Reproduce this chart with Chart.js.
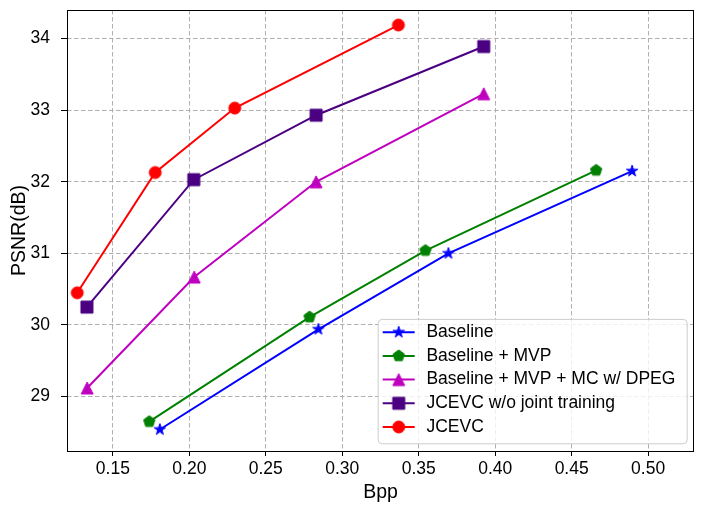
<!DOCTYPE html>
<html>
<head>
<meta charset="utf-8">
<script src="https://cdn.jsdelivr.net/npm/chart.js@4.4.0/dist/chart.umd.min.js"></script>
<style>
    html, body { margin: 0; padding: 0; background: #fff; }
    canvas { display: block; }
</style>
</head>
<body>
<canvas id="rdChart" width="705" height="514"></canvas>
<script>
// Series labels
const seriesNames = [
    'Baseline',
    'Baseline + MVP',
    'Baseline + MVP + MC w/ DPEG',
    'JCEVC w/o joint training',
    'JCEVC'
];

// Bpp (x) per series
const bppBaseline = [0.1807, 0.2844, 0.3694, 0.4895];
const bppMvp      = [0.1738, 0.2786, 0.3544, 0.4660];
const bppDpeg     = [0.1332, 0.2032, 0.2829, 0.3925];
const bppNoJoint  = [0.1330, 0.2029, 0.2829, 0.3925];
const bppJcevc    = [0.1267, 0.1777, 0.2297, 0.3367];

// PSNR (y) per series
const psnrBaseline = [28.54, 29.94, 31.00, 32.15];
const psnrMvp      = [28.65, 30.11, 31.04, 32.16];
const psnrDpeg     = [29.12, 30.67, 32.00, 33.23];
const psnrNoJoint  = [30.25, 32.03, 32.93, 33.89];
const psnrJcevc    = [30.45, 32.13, 33.03, 34.19];

// Tick labels
const xTicks = [0.15, 0.20, 0.25, 0.30, 0.35, 0.40, 0.45, 0.50];
const yTicks = [29, 30, 31, 32, 33, 34];

const FONT = "'Liberation Sans', Arial, Helvetica, sans-serif";

/**
 * Build a matplotlib-like marker as a small canvas
 */
function makeMarker(shape, color) {
    const c = document.createElement('canvas');
    c.width = 18;
    c.height = 18;
    const ctx = c.getContext('2d');
    const cx = 9, cy = 9, r = 6;

    ctx.beginPath();
    if (shape === 'star') {
        for (let i = 0; i < 10; i++) {
            const rad = i % 2 ? r * 0.381966 : r;
            const a = -Math.PI / 2 + i * Math.PI / 5;
            ctx.lineTo(cx + rad * Math.cos(a), cy + rad * Math.sin(a));
        }
    } else if (shape === 'pentagon') {
        for (let i = 0; i < 5; i++) {
            const a = -Math.PI / 2 + i * 2 * Math.PI / 5;
            ctx.lineTo(cx + r * Math.cos(a), cy + r * Math.sin(a));
        }
    } else if (shape === 'triangle') {
        ctx.moveTo(cx, cy - r);
        ctx.lineTo(cx - r, cy + r);
        ctx.lineTo(cx + r, cy + r);
    } else if (shape === 'square') {
        ctx.rect(cx - r, cy - r, 2 * r, 2 * r);
    } else {
        ctx.arc(cx, cy, r, 0, Math.PI * 2);
    }
    ctx.closePath();
    ctx.fillStyle = color;
    ctx.fill();
    ctx.lineWidth = 1;
    ctx.strokeStyle = color;
    ctx.stroke();
    return c;
}

const seriesColors = ['#0000ff', '#008000', '#bf00bf', '#4b0082', '#ff0000'];
const seriesShapes = ['star', 'pentagon', 'triangle', 'square', 'circle'];
const seriesX = [bppBaseline, bppMvp, bppDpeg, bppNoJoint, bppJcevc];
const seriesY = [psnrBaseline, psnrMvp, psnrDpeg, psnrNoJoint, psnrJcevc];

const markers = seriesShapes.map((s, i) => makeMarker(s, seriesColors[i]));

const datasets = seriesNames.map((name, i) => ({
    label: name,
    data: seriesX[i].map((x, j) => ({ x: x, y: seriesY[i][j] })),
    borderColor: seriesColors[i],
    backgroundColor: seriesColors[i],
    borderWidth: 2,
    showLine: true,
    tension: 0,
    pointStyle: markers[i],
    pointRadius: 7,
    order: seriesNames.length - i
}));

// Axes frame + legend box inside the plot
const framePlugin = {
    id: 'frameAndLegend',
    afterDatasetsDraw(chart) {
        const { ctx, chartArea: a } = chart;
        ctx.save();
        ctx.strokeStyle = '#000';
        ctx.lineWidth = 1;
        ctx.strokeRect(Math.round(a.left) + 0.5, Math.round(a.top) + 0.5,
            Math.round(a.right - a.left) - 1, Math.round(a.bottom - a.top));
        ctx.restore();
    },
    afterDraw(chart) {
        const { ctx, chartArea: a } = chart;
        const rowH = 23.7;
        const w = 309, h = 13.3 + rowH * 4 + 16.3;
        const right = a.right - 7.3, bottom = a.bottom - 7.7;
        const left = right - w, top = bottom - h;

        ctx.save();
        ctx.beginPath();
        ctx.roundRect(left + 0.5, top + 0.5, w, h, 4);
        ctx.fillStyle = 'rgba(255,255,255,0.8)';
        ctx.fill();
        ctx.strokeStyle = '#cccccc';
        ctx.lineWidth = 1;
        ctx.stroke();

        ctx.font = '17.5px ' + FONT;
        ctx.textBaseline = 'middle';
        ctx.textAlign = 'left';
        seriesNames.forEach((name, i) => {
            const y = top + 13.3 + i * rowH;
            ctx.beginPath();
            ctx.moveTo(left + 5, y);
            ctx.lineTo(left + 37, y);
            ctx.strokeStyle = seriesColors[i];
            ctx.lineWidth = 2;
            ctx.stroke();
            ctx.drawImage(markers[i], left + 21 - 9, y - 9);
            ctx.fillStyle = '#000';
            ctx.fillText(name, left + 48.7, y);
        });
        ctx.restore();
    }
};

new Chart(document.getElementById('rdChart'), {
    type: 'scatter',
    data: { datasets: datasets },
    plugins: [framePlugin],
    options: {
        responsive: false,
        animation: false,
        layout: { padding: { top: 10, right: 11, left: 0, bottom: 0 } },
        plugins: {
            legend: { display: false },
            tooltip: { enabled: false }
        },
        scales: {
            x: {
                type: 'linear',
                min: 0.12,
                max: 0.53,
                afterBuildTicks: scale => { scale.ticks = xTicks.map(v => ({ value: v })); },
                afterFit: scale => {
                    scale.height = 63;
                    scale.paddingLeft = 0;
                    scale.paddingRight = 0;
                },
                ticks: {
                    callback: v => v.toFixed(2),
                    color: '#000',
                    padding: 3,
                    maxRotation: 0,
                    font: { family: FONT, size: 17.5 }
                },
                grid: {
                    color: '#b0b0b0',
                    lineWidth: 1,
                    tickLength: 5,
                    tickColor: '#000',
                    tickWidth: 1,
                    tickBorderDash: []
                },
                border: { display: false, dash: [4.5, 2.5] },
                title: {
                    display: true,
                    text: 'Bpp',
                    color: '#000',
                    font: { family: FONT, size: 19.5 },
                    padding: { top: 0, bottom: 10 }
                }
            },
            y: {
                type: 'linear',
                min: 28.24,
                max: 34.40,
                afterBuildTicks: scale => { scale.ticks = yTicks.map(v => ({ value: v })); },
                afterFit: scale => {
                    scale.width = 67;
                    scale.paddingTop = 0;
                    scale.paddingBottom = 0;
                },
                ticks: {
                    color: '#000',
                    padding: 11,
                    font: { family: FONT, size: 17.5 }
                },
                grid: {
                    color: '#b0b0b0',
                    lineWidth: 1,
                    tickLength: 6,
                    tickColor: '#000',
                    tickWidth: 1,
                    tickBorderDash: []
                },
                border: { display: false, dash: [4.5, 2.5] },
                title: {
                    display: true,
                    text: 'PSNR(dB)',
                    color: '#000',
                    font: { family: FONT, size: 19.5 },
                    padding: { top: 8, bottom: 0 }
                }
            }
        }
    }
});
</script>
</body>
</html>
